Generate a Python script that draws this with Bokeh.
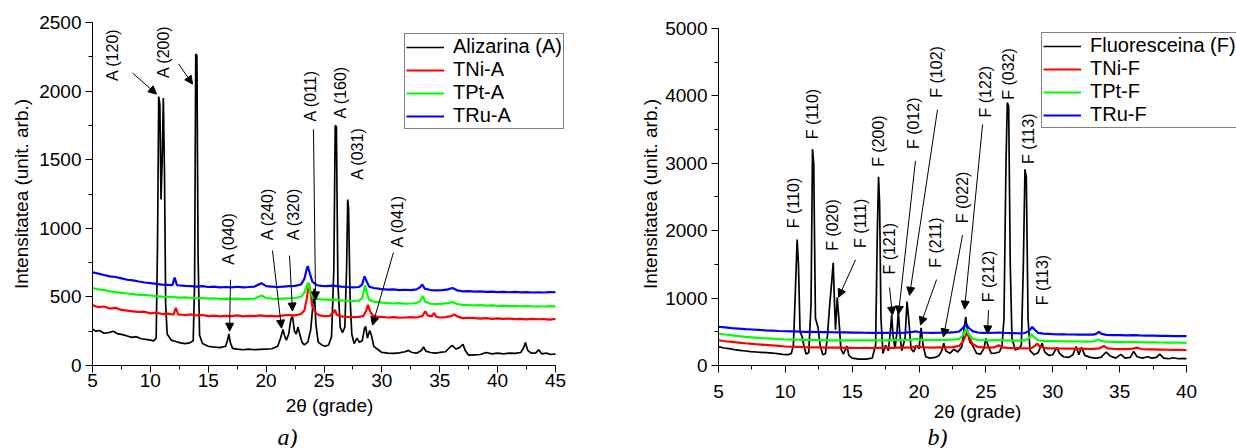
import math
from bokeh.plotting import figure
from bokeh.models import (ColumnDataSource, Legend, LegendItem, Arrow, NormalHead,
                          SingleIntervalTicker, Range1d)
from bokeh.layouts import row, column
from bokeh.embed import file_html
from bokeh.resources import INLINE
from bokeh.core.properties import value

# ---------------- Panel a) : Alizarina ----------------
a_alz_x = [5.0, 5.3, 5.6, 6.0, 6.4, 6.8, 7.2, 7.6, 8.0, 8.4, 8.8, 9.2, 9.6, 10.0, 10.3, 10.5,
           10.62, 10.72, 10.82, 10.92, 11.02, 11.12, 11.22, 11.32, 11.45, 11.8, 12.2, 12.6, 13.0,
           13.4, 13.7, 13.82, 13.92, 14.02, 14.12, 14.25, 14.5, 15.0, 15.5, 16.0, 16.5, 16.65,
           16.78, 16.9, 17.1, 17.5, 18.0, 18.5, 19.0, 19.5, 20.0, 20.5, 21.0, 21.25, 21.45, 21.6,
           21.75, 21.95, 22.15, 22.28, 22.45, 22.6, 22.75, 22.9, 23.1, 23.3, 23.6, 23.85, 24.05,
           24.15, 24.3, 24.5, 24.8, 25.1, 25.4, 25.65, 25.85, 25.97, 26.07, 26.2, 26.4, 26.6, 26.8,
           26.95, 27.05, 27.12, 27.25, 27.4, 27.6, 27.85, 28.05, 28.3, 28.5, 28.6, 28.75, 28.95,
           29.1, 29.3, 29.6, 30.0, 30.5, 31.0, 31.5, 32.0, 32.3, 32.6, 33.0, 33.4, 33.6, 33.8,
           34.2, 34.6, 35.0, 35.5, 35.9, 36.1, 36.4, 36.7, 37.0, 37.2, 37.5, 38.0, 38.5, 39.0,
           39.5, 40.0, 40.5, 41.0, 41.5, 42.0, 42.25, 42.4, 42.6, 42.9, 43.3, 43.55, 43.8, 44.2,
           44.6, 45.0]
a_alz_y = [265, 250, 255, 235, 240, 250, 230, 225, 215, 205, 210, 195, 190, 185, 180, 200,
           900, 1960, 1900, 1210, 1500, 1950, 1400, 450, 230, 185, 175, 165, 160,
           165, 180, 600, 2270, 2260, 800, 220, 160, 140, 135, 130, 140, 180,
           230, 170, 125, 120, 115, 120, 115, 118, 120, 122, 140, 200, 262, 215,
           185, 230, 340, 358, 250, 230, 280, 230, 170, 150, 170, 260, 450,
           560, 300, 170, 150, 140, 150, 210, 700, 1750, 1740, 600, 280, 240, 280,
           700, 1210, 1150, 500, 230, 160, 200, 170, 180, 270, 285, 200, 255,
           220, 140, 120, 95, 90, 88, 92, 100, 110, 95, 90, 110, 135, 105,
           95, 90, 95, 100, 135, 145, 120, 130, 155, 110, 75, 78, 80, 95,
           85, 90, 85, 90, 88, 95, 130, 168, 110, 90, 92, 115, 85, 90,
           80, 85]

a_tni_x = [5.0, 5.5, 6.0, 6.5, 7.0, 7.5, 8.0, 8.5, 9.0, 9.5, 10.0, 10.5, 11.0, 11.5, 12.0, 12.2,
           12.4, 13.0, 13.5, 14.0, 14.5, 15.0, 15.5, 16.0, 16.5, 17.0, 17.5, 18.0, 18.5, 19.0,
           19.5, 20.0, 20.5, 21.0, 21.5, 22.0, 22.5, 23.0, 23.3, 23.5, 23.7, 23.85, 24.0, 24.3,
           24.6, 25.0, 25.5, 25.8, 25.95, 26.1, 26.5, 27.0, 27.5, 28.0, 28.4, 28.65, 28.8, 28.95,
           29.2, 29.6, 30.0, 30.5, 31.0, 31.5, 32.0, 32.5, 33.0, 33.5, 33.75, 33.95, 34.3, 34.5,
           34.7, 35.0, 35.5, 36.0, 36.25, 36.5, 37.0, 37.5, 38.0, 38.5, 39.0, 39.5, 40.0, 40.5,
           41.0, 41.5, 42.0, 42.5, 43.0, 43.5, 44.0, 44.5, 45.0]
a_tni_y = [440, 425, 430, 415, 420, 405, 400, 395, 390, 392, 380, 385, 375, 378, 370, 420,
           372, 368, 372, 365, 368, 360, 364, 358, 362, 360, 365, 358, 362, 360,
           365, 360, 362, 358, 365, 368, 365, 375, 400, 480, 600, 520, 430, 380,
           365, 360, 362, 385, 405, 370, 358, 355, 352, 355, 360, 400, 443, 400,
           365, 355, 355, 350, 352, 348, 350, 352, 350, 360, 395, 365, 358, 382,
           355, 350, 352, 360, 372, 358, 345, 348, 345, 342, 345, 340, 344, 340,
           342, 338, 340, 336, 340, 337, 338, 335, 340]

a_tpt_x = [5.0, 5.5, 6.0, 6.5, 7.0, 7.5, 8.0, 8.5, 9.0, 9.5, 10.0, 10.5, 11.0, 11.5, 12.0, 12.5,
           13.0, 13.5, 14.0, 14.5, 15.0, 15.5, 16.0, 16.5, 17.0, 17.5, 18.0, 18.5, 19.0, 19.6,
           20.0, 20.5, 21.0, 21.5, 22.0, 22.5, 23.0, 23.3, 23.5, 23.63, 23.8, 24.0, 24.4, 24.8,
           25.2, 25.6, 26.0, 26.5, 27.0, 27.5, 28.0, 28.3, 28.55, 28.7, 28.9, 29.3, 29.7, 30.0,
           30.5, 31.0, 31.5, 32.0, 32.5, 33.0, 33.3, 33.55, 33.75, 34.2, 34.7, 35.2, 35.7, 36.1,
           36.5, 37.0, 37.5, 38.0, 38.5, 39.0, 39.5, 40.0, 40.5, 41.0, 41.5, 42.0, 42.5, 43.0,
           43.5, 44.0, 44.5, 45.0]
a_tpt_y = [565, 555, 550, 540, 535, 530, 525, 520, 515, 515, 510, 505, 502, 500, 498, 495,
           497, 492, 490, 492, 488, 490, 485, 488, 485, 488, 484, 486, 488, 510,
           492, 488, 485, 488, 490, 492, 500, 530, 580, 603, 540, 500, 485, 482,
           480, 478, 480, 475, 472, 470, 472, 490, 583, 530, 480, 465, 462, 458,
           455, 452, 455, 450, 452, 455, 470, 505, 465, 450, 448, 450, 455, 462,
           448, 442, 440, 438, 440, 436, 438, 435, 437, 433, 435, 432, 434, 430,
           432, 430, 433, 431]

a_tru_x = [5.0, 5.5, 6.0, 6.5, 7.0, 7.5, 8.0, 8.5, 9.0, 9.5, 10.0, 10.5, 11.0, 11.5, 11.9, 12.1,
           12.3, 13.0, 13.5, 14.0, 14.5, 15.0, 15.5, 16.0, 16.5, 17.0, 17.5, 18.0, 18.5, 19.0,
           19.6, 20.0, 20.5, 21.0, 21.5, 22.0, 22.5, 23.0, 23.3, 23.5, 23.6, 23.75, 24.0, 24.4,
           24.8, 25.2, 25.7, 26.0, 26.5, 27.0, 27.5, 28.0, 28.3, 28.5, 28.65, 28.9, 29.3, 29.7,
           30.0, 30.5, 31.0, 31.5, 32.0, 32.5, 33.0, 33.3, 33.5, 33.7, 34.2, 34.7, 35.2, 35.7,
           36.1, 36.5, 37.0, 37.5, 38.0, 38.5, 39.0, 39.5, 40.0, 40.5, 41.0, 41.5, 42.0, 42.5,
           43.0, 43.5, 44.0, 44.5, 45.0]
a_tru_y = [680, 670, 660, 650, 645, 635, 625, 620, 612, 605, 600, 595, 590, 588, 585, 640,
           585, 580, 578, 575, 578, 572, 575, 570, 572, 570, 574, 570, 572, 575,
           600, 578, 575, 572, 575, 578, 580, 590, 630, 700, 725, 680, 610, 585,
           580, 578, 582, 580, 575, 572, 570, 572, 590, 650, 620, 575, 565, 560,
           556, 553, 555, 550, 552, 550, 555, 570, 590, 560, 550, 548, 550, 555,
           565, 548, 540, 542, 538, 540, 536, 538, 535, 537, 534, 536, 533, 535,
           532, 534, 532, 535, 534]

a_lbl_text = ["A (120)", "A (200)", "A (040)", "A (240)", "A (320)", "A (011)", "A (160)",
              "A (031)", "A (041)"]
a_lbl_x = [6.73, 11.13, 16.75, 20.12, 22.37, 23.83, 26.43, 27.89, 31.35]
a_lbl_y = [2074, 2096, 735, 912, 912, 1779, 1801, 1353, 860]
a_arr_x0 = [8.46, 12.43, 16.92, 20.55, 22.02, 24.09, 31.0]
a_arr_y0 = [2132, 2199, 625, 838, 801, 1721, 824]
a_arr_x1 = [10.53, 13.64, 16.84, 21.33, 22.28, 24.27, 29.19]
a_arr_y1 = [1978, 2051, 250, 272, 397, 478, 294]

# ---------------- Panel b) : Fluoresceina ----------------
b_flu_x = [5.0, 5.4, 5.8, 6.2, 6.6, 7.0, 7.4, 7.8, 8.2, 8.6, 9.0, 9.4, 9.8, 10.2, 10.45, 10.6,
           10.75, 10.88, 10.98, 11.1, 11.25, 11.38, 11.55, 11.75, 11.92, 12.03, 12.12, 12.25,
           12.45, 12.6, 12.8, 13.0, 13.15, 13.3, 13.45, 13.58, 13.68, 13.75, 13.88, 14.0, 14.15,
           14.35, 14.6, 14.75, 15.0, 15.5, 16.0, 16.5, 16.75, 16.88, 16.97, 17.05, 17.15, 17.3,
           17.5, 17.7, 17.85, 17.95, 18.05, 18.2, 18.35, 18.45, 18.55, 18.7, 18.95, 19.1, 19.22,
           19.4, 19.6, 19.8, 20.0, 20.15, 20.3, 20.5, 20.8, 21.2, 21.5, 21.7, 21.85, 22.0, 22.3,
           22.6, 22.9, 23.2, 23.4, 23.5, 23.6, 23.8, 24.0, 24.3, 24.6, 24.85, 25.0, 25.15, 25.4,
           25.7, 26.0, 26.2, 26.35, 26.5, 26.6, 26.7, 26.82, 26.95, 27.2, 27.45, 27.65, 27.8,
           27.92, 28.02, 28.15, 28.3, 28.6, 28.9, 29.2, 29.4, 29.7, 30.0, 30.3, 30.5, 30.8, 31.2,
           31.5, 31.75, 31.95, 32.15, 32.4, 32.8, 33.2, 33.6, 34.0, 34.3, 34.7, 35.1, 35.4, 35.8,
           36.05, 36.3, 36.7, 37.1, 37.4, 37.75, 38.0, 38.3, 38.7, 39.0, 39.4, 39.8, 40.0]
b_flu_y = [280, 260, 250, 235, 225, 215, 205, 200, 195, 190, 185, 175, 165, 160, 180, 300,
           1100, 1870, 1500, 500, 430, 300, 170, 190, 900, 3210, 3000, 700,
           560, 300, 160, 175, 450, 860, 1200, 1525, 900, 530, 1010, 700, 250,
           170, 290, 150, 110, 95, 95, 110, 300, 2000, 2800, 2400, 700, 180,
           300, 220, 500, 750, 450, 250, 500, 800, 500, 220, 400, 950, 700,
           250, 200, 300, 250, 560, 300, 130, 110, 120, 150, 220, 330, 220, 180,
           240, 200, 280, 600, 720, 500, 350, 300, 180, 170, 250, 400, 300, 180,
           185, 200, 280, 700, 3000, 3900, 3850, 1500, 400, 230, 250, 300, 1500,
           2910, 2800, 700, 220, 160, 190, 330, 200, 150, 160, 270, 180, 130, 120,
           160, 280, 160, 270, 150, 120, 110, 120, 200, 140, 110, 165, 110, 120,
           210, 130, 110, 130, 110, 120, 170, 110, 100, 115, 100, 105, 100]

b_tni_x = [5.0, 5.5, 6.0, 6.5, 7.0, 7.5, 8.0, 8.5, 9.0, 9.5, 10.0, 10.5, 11.0, 11.5, 12.0, 12.5,
           13.0, 13.5, 14.0, 14.5, 15.0, 15.5, 16.0, 16.5, 17.0, 17.5, 18.0, 18.5, 19.0, 19.5,
           19.8, 20.0, 20.5, 21.0, 21.5, 22.0, 22.5, 23.0, 23.3, 23.5, 23.62, 23.75, 24.0, 24.4,
           24.8, 25.2, 25.6, 25.95, 26.2, 26.6, 27.0, 27.5, 28.0, 28.4, 28.65, 28.83, 29.0, 29.3,
           29.7, 30.0, 30.5, 31.0, 31.5, 32.0, 32.5, 33.0, 33.5, 33.82, 34.1, 34.6, 35.0, 35.5,
           36.0, 36.3, 36.6, 37.0, 37.5, 38.0, 38.5, 39.0, 39.5, 40.0]
b_tni_y = [375, 360, 350, 340, 330, 322, 312, 305, 298, 290, 282, 278, 276, 272, 270, 268,
           266, 265, 264, 262, 262, 260, 262, 260, 262, 264, 262, 265, 266, 268,
           290, 275, 268, 266, 268, 270, 272, 290, 360, 450, 520, 420, 320, 275,
           268, 265, 268, 300, 270, 262, 258, 256, 255, 258, 290, 327, 285, 262,
           255, 254, 252, 250, 250, 248, 246, 248, 255, 290, 255, 245, 242, 244,
           250, 265, 245, 240, 238, 236, 234, 233, 232, 230]

b_tpt_x = [5.0, 5.5, 6.0, 6.5, 7.0, 7.5, 8.0, 8.5, 9.0, 9.5, 10.0, 10.5, 11.0, 11.5, 12.0, 12.5,
           13.0, 13.5, 14.0, 14.5, 15.0, 15.5, 16.0, 16.5, 17.0, 17.5, 18.0, 18.5, 19.0, 19.5,
           19.8, 20.1, 20.5, 21.0, 21.5, 22.0, 22.5, 23.0, 23.25, 23.45, 23.55, 23.7, 24.0, 24.4,
           24.8, 25.2, 25.6, 26.0, 26.5, 27.0, 27.5, 27.9, 28.2, 28.4, 28.6, 28.9, 29.3, 29.7,
           30.0, 30.5, 31.0, 31.5, 32.0, 32.5, 33.0, 33.2, 33.4, 33.6, 34.0, 34.5, 35.0, 35.5,
           36.0, 36.5, 37.0, 37.5, 38.0, 38.5, 39.0, 39.5, 40.0]
b_tpt_y = [475, 460, 448, 436, 425, 418, 410, 404, 398, 392, 386, 384, 382, 380, 378, 376,
           375, 374, 373, 372, 372, 373, 372, 374, 373, 374, 375, 376, 378, 385,
           395, 380, 377, 376, 378, 380, 382, 395, 440, 520, 540, 470, 400, 380,
           375, 374, 376, 378, 372, 370, 368, 372, 400, 465, 420, 375, 365, 362,
           362, 360, 358, 357, 356, 355, 356, 365, 386, 365, 352, 350, 348, 347,
           350, 345, 343, 342, 341, 340, 339, 338, 337]

b_tru_x = [5.0, 5.5, 6.0, 6.5, 7.0, 7.5, 8.0, 8.5, 9.0, 9.5, 10.0, 10.5, 11.0, 11.5, 12.0, 12.5,
           13.0, 13.5, 14.0, 14.5, 15.0, 15.5, 16.0, 16.5, 17.0, 17.5, 18.0, 18.5, 19.0, 19.5,
           19.8, 20.1, 20.5, 21.0, 21.5, 22.0, 22.5, 23.0, 23.25, 23.45, 23.55, 23.7, 24.0, 24.4,
           24.8, 25.2, 25.6, 26.0, 26.5, 27.0, 27.5, 27.9, 28.2, 28.46, 28.65, 28.9, 29.3, 29.7,
           30.0, 30.5, 31.0, 31.5, 32.0, 32.5, 33.0, 33.25, 33.44, 33.65, 34.0, 34.5, 35.0, 35.5,
           36.0, 36.5, 37.0, 37.5, 38.0, 38.5, 39.0, 39.5, 40.0]
b_tru_y = [575, 565, 555, 548, 540, 534, 528, 522, 518, 512, 508, 505, 502, 500, 498, 496,
           495, 493, 492, 490, 488, 487, 486, 485, 485, 484, 484, 485, 487, 498,
           505, 490, 486, 484, 486, 488, 490, 505, 550, 600, 610, 560, 510, 490,
           485, 484, 486, 488, 482, 480, 478, 482, 510, 572, 530, 485, 472, 468,
           465, 463, 461, 460, 458, 457, 458, 470, 498, 470, 455, 452, 450, 448,
           450, 446, 443, 442, 440, 439, 437, 436, 435]

b_lbl_text = ["F (110)", "F (110)", "F (020)", "F (111)", "F (200)", "F (121)", "F (012)",
              "F (102)", "F (211)", "F (022)", "F (122)", "F (032)", "F (113)", "F (212)",
              "F (113)"]
b_lbl_x = [10.61, 12.03, 13.53, 15.62, 16.97, 17.79, 19.58, 21.31, 21.23, 23.25, 24.97, 26.69,
           28.19, 25.19, 29.23]
b_lbl_y = [2038, 3357, 1701, 1745, 2947, 1349, 3211, 3973, 1451, 2111, 3680, 3944, 2991, 938, 894]
b_arr_x0 = [15.25, 17.79, 19.73, 21.38, 21.31, 23.25, 24.75, 25.19]
b_arr_y0 = [1569, 1158, 3035, 3797, 1275, 1935, 3577, 821]
b_arr_x1 = [13.98, 18.01, 18.46, 19.29, 20.11, 21.83, 23.40, 25.12]
b_arr_y1 = [1012, 748, 762, 1041, 601, 425, 836, 469]

# captions (data x of each panel)
cap_text = ["a)", "b)"]
cap_x = [21.85, 21.38]

FONT = "Liberation Sans"
MAIN_H = 424
CAP_H = 24


def make_panel(width, borders, xr, xb, yr, yb, xint, yint, series, names, lbl, arrows,
               legend_loc, xstand, xlab_stand, ylab_stand):
    p = figure(width=width, height=MAIN_H, x_range=Range1d(*xr), y_range=Range1d(*yr),
               output_backend="svg", toolbar_location=None,
               min_border_left=borders[0], min_border_right=borders[1],
               min_border_top=borders[2], min_border_bottom=borders[3])
    p.outline_line_color = None
    p.xgrid.visible = False
    p.ygrid.visible = False
    p.background_fill_color = "white"
    p.border_fill_color = "white"

    p.xaxis.ticker = SingleIntervalTicker(interval=xint, num_minor_ticks=2)
    p.yaxis.ticker = SingleIntervalTicker(interval=yint, num_minor_ticks=2)
    p.xaxis.bounds = xb
    p.yaxis.bounds = yb
    for ax in (p.xaxis, p.yaxis):
        ax.axis_line_color = "black"
        ax.axis_line_width = 1
        ax.major_tick_line_color = "black"
        ax.minor_tick_line_color = "black"
        ax.major_tick_out = 7
        ax.major_tick_in = 0
        ax.minor_tick_out = 4
        ax.minor_tick_in = 0
        ax.major_label_text_font = FONT
        ax.major_label_text_font_size = "19px"
        ax.major_label_text_color = "black"
        ax.axis_label_text_font = FONT
        ax.axis_label_text_font_size = "19px"
        ax.axis_label_text_font_style = "normal"
        ax.axis_label_text_color = "black"
    p.xaxis.axis_label = "2θ (grade)"
    p.yaxis.axis_label = "Intensitatea (unit. arb.)"
    p.xaxis.major_label_standoff = xstand
    p.yaxis.major_label_standoff = 4
    p.xaxis.axis_label_standoff = xlab_stand
    p.yaxis.axis_label_standoff = ylab_stand

    colors = ["black", "#ff0000", "#00ff00", "#0000ff"]
    widths = [1.7, 2.2, 2.2, 2.2]
    items = []
    for (sx, sy), c, w, nm in zip(series, colors, widths, names):
        r = p.line(sx, sy, line_color=c, line_width=w)
        items.append(LegendItem(label=nm, renderers=[r]))

    src = ColumnDataSource(dict(x=lbl[1], y=lbl[2], t=lbl[0]))
    p.text(x="x", y="y", text="t", source=src, angle=math.pi / 2,
           text_align="left", text_baseline="middle", text_color="black",
           text_font=value(FONT), text_font_size="16px")

    ax0, ay0, ax1, ay1 = arrows
    asrc = ColumnDataSource(dict(x0=ax0, y0=ay0, x1=ax1, y1=ay1))
    p.add_layout(Arrow(end=NormalHead(size=8, fill_color="black", line_color="black",
                                      line_width=1),
                       x_start="x0", y_start="y0", x_end="x1", y_end="y1",
                       source=asrc, line_color="black", line_width=1))

    leg = Legend(items=items, location=legend_loc)
    leg.border_line_color = "black"
    leg.border_line_width = 1
    leg.background_fill_color = "white"
    leg.background_fill_alpha = 1
    leg.label_text_font = FONT
    leg.label_text_font_size = "20px"
    leg.label_text_color = "black"
    leg.glyph_width = 38
    leg.glyph_height = 20
    leg.label_height = 20
    leg.label_standoff = 9
    leg.spacing = 0
    leg.padding = 1
    leg.margin = 0
    p.add_layout(leg, "center")
    return p


def make_caption(width, borders, xrange, text, x):
    c = figure(width=width, height=CAP_H, x_range=xrange, y_range=Range1d(0, CAP_H),
               output_backend="svg", toolbar_location=None,
               x_axis_type=None, y_axis_type=None,
               min_border_left=borders[0], min_border_right=borders[1],
               min_border_top=0, min_border_bottom=0)
    c.outline_line_color = None
    c.background_fill_color = "white"
    c.border_fill_color = "white"
    c.text(x=[x], y=[CAP_H - 12], text=[text], text_align="center", text_baseline="middle",
           text_font=value("Liberation Serif"), text_font_style="italic",
           text_font_size="24px", text_color="black")
    return c


BORD_A = (92, 44, 22, 59)
BORD_B = (108, 0, 22, 59)

pa = make_panel(610, BORD_A, (5, 45.95), (5, 45), (0, 2500), (0, 2500), 5, 500,
                [(a_alz_x, a_alz_y), (a_tni_x, a_tni_y), (a_tpt_x, a_tpt_y), (a_tru_x, a_tru_y)],
                ["Alizarina (A)", "TNi-A", "TPt-A", "TRu-A"],
                (a_lbl_text, a_lbl_x, a_lbl_y), (a_arr_x0, a_arr_y0, a_arr_x1, a_arr_y1),
                (312, 236), 1, 5, 4)

pb = make_panel(626, BORD_B, (5, 43.74), (5, 40), (0, 5089), (0, 5000), 5, 1000,
                [(b_flu_x, b_flu_y), (b_tni_x, b_tni_y), (b_tpt_x, b_tpt_y), (b_tru_x, b_tru_y)],
                ["Fluoresceina (F)", "TNi-F", "TPt-F", "TRu-F"],
                (b_lbl_text, b_lbl_x, b_lbl_y), (b_arr_x0, b_arr_y0, b_arr_x1, b_arr_y1),
                (323, 237), 12, 0, 1)

ca = make_caption(610, BORD_A, pa.x_range, cap_text[0], cap_x[0])
cb = make_caption(626, BORD_B, pb.x_range, cap_text[1], cap_x[1])

layout = column(row(pa, pb), row(ca, cb))
open("out.html", "w").write(file_html(layout, INLINE))
